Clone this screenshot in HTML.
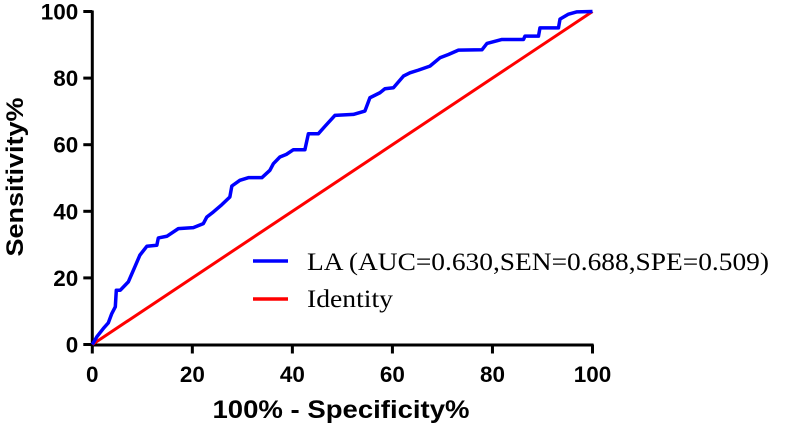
<!DOCTYPE html>
<html><head><meta charset="utf-8"><style>
html,body{margin:0;padding:0;background:#fff;width:790px;height:425px;overflow:hidden}
svg{display:block}
</style></head><body>
<svg id="chart" width="790" height="425" viewBox="0 0 790 425" xmlns="http://www.w3.org/2000/svg">
<g id="axes"></g>
<g id="series"></g>
<g id="legend">
  <line x1="253" y1="261" x2="288" y2="261" stroke="#0000ff" stroke-width="3.5"/>
  <text x="307" y="270" font-family="Liberation Serif, serif" font-size="25" textLength="462" lengthAdjust="spacingAndGlyphs" fill="#000">LA (AUC=0.630,SEN=0.688,SPE=0.509)</text>
  <line x1="253" y1="299" x2="288" y2="299" stroke="#ff0000" stroke-width="3.5"/>
  <text x="307" y="307" font-family="Liberation Serif, serif" font-size="25" textLength="86" lengthAdjust="spacingAndGlyphs" fill="#000">Identity</text>
</g>
</svg>
<script>
const xTicks = [0,20,40,60,80,100];
const yTicks = [0,20,40,60,80,100];
const laFpr = [0,0.9,2.2,3.2,3.9,4.6,4.8,5.6,7.2,8.5,9.5,10.9,12.9,13.2,14.9,17.2,20.2,22.2,22.9,24.2,25.9,27.5,27.9,29.5,31.2,33.9,35.5,36.2,37.5,38.8,40.2,42.5,43.2,45.2,46.5,48.5,52.2,54.5,55.5,57.5,58.5,60.2,62.2,63.5,65.2,67.5,69.5,71.2,73.2,77.9,78.9,81.9,86.2,86.5,89.2,89.5,93.2,93.5,95.2,96.9,100];
const laTpr = [0,2.3,4.8,6.5,9.3,11.3,16.3,16.3,18.8,23.3,26.8,29.5,29.8,32,32.5,34.8,35.1,36.3,38.3,39.8,42,44.3,47.6,49.3,50.1,50.1,52.3,54.3,56.3,57.1,58.5,58.5,63.3,63.3,65.5,68.8,69.1,70.1,74.1,75.6,76.8,77.1,80.6,81.6,82.4,83.6,86.1,87.1,88.4,88.5,90.4,91.6,91.6,92.6,92.6,95.1,95.1,97.7,99.2,99.9,100];
const idX = [0,100];
const idY = [0,100];

const X0=92.3, X1=592.5, Y0=344.5, Y1=11.5;
const sx = v => X0 + (X1-X0)*v/100;
const sy = v => Y0 - (Y0-Y1)*v/100;
const NS="http://www.w3.org/2000/svg";
function mk(tag, attrs, parent){const e=document.createElementNS(NS,tag);for(const k in attrs)e.setAttribute(k,attrs[k]);parent.appendChild(e);return e;}
const axes=document.getElementById('axes'), series=document.getElementById('series'), svg=document.getElementById('chart');
const lw = t => String(t).length*12.5;

let e=mk('line',{x1:X0,y1:Y0+0.5,x2:X1+1,y2:Y0+0.5,stroke:'#000','stroke-width':3},axes);


e=mk('line',{x1:X0,y1:Y1-1,x2:X0,y2:Y0+2,stroke:'#000','stroke-width':3},axes);


xTicks.forEach(t=>{
  const l=mk('line',{x1:sx(t),y1:Y0,x2:sx(t),y2:Y0+9,stroke:'#000','stroke-width':3},axes);
  
  
  const tx=mk('text',{x:sx(t),y:382,'text-anchor':'middle','font-family':'Liberation Sans, sans-serif','font-size':22,'font-weight':'bold',textLength:lw(t),lengthAdjust:'spacingAndGlyphs'},axes);
  tx.textContent=t;
  
  
});
yTicks.forEach(t=>{
  const l=mk('line',{x1:X0-9,y1:sy(t),x2:X0,y2:sy(t),stroke:'#000','stroke-width':3},axes);
  
  
  const tx=mk('text',{x:X0-14,y:sy(t)+8,'text-anchor':'end','font-family':'Liberation Sans, sans-serif','font-size':22,'font-weight':'bold',textLength:lw(t),lengthAdjust:'spacingAndGlyphs'},axes);
  tx.textContent=t;
  
  
});
e=mk('text',{x:341,y:418,'text-anchor':'middle','font-family':'Liberation Sans, sans-serif','font-size':25,'font-weight':'bold',textLength:257,lengthAdjust:'spacingAndGlyphs'},axes);
e.textContent='100% - Specificity%';


e=mk('text',{x:0,y:0,'text-anchor':'middle','font-family':'Liberation Sans, sans-serif','font-size':24,'font-weight':'bold',textLength:159,lengthAdjust:'spacingAndGlyphs',transform:'translate(23,177) rotate(-90)'},axes);
e.textContent='Sensitivity%';



e=mk('polyline',{points:idX.map((v,i)=>sx(v)+','+sy(idY[i])).join(' '),fill:'none',stroke:'#ff0000','stroke-width':3},series);


e=mk('polyline',{points:laFpr.map((v,i)=>sx(v)+','+sy(laTpr[i])).join(' '),fill:'none',stroke:'#0000ff','stroke-width':3.5,'stroke-linejoin':'round'},series);


svg.appendChild(document.getElementById('legend'));
</script>
</body></html>
